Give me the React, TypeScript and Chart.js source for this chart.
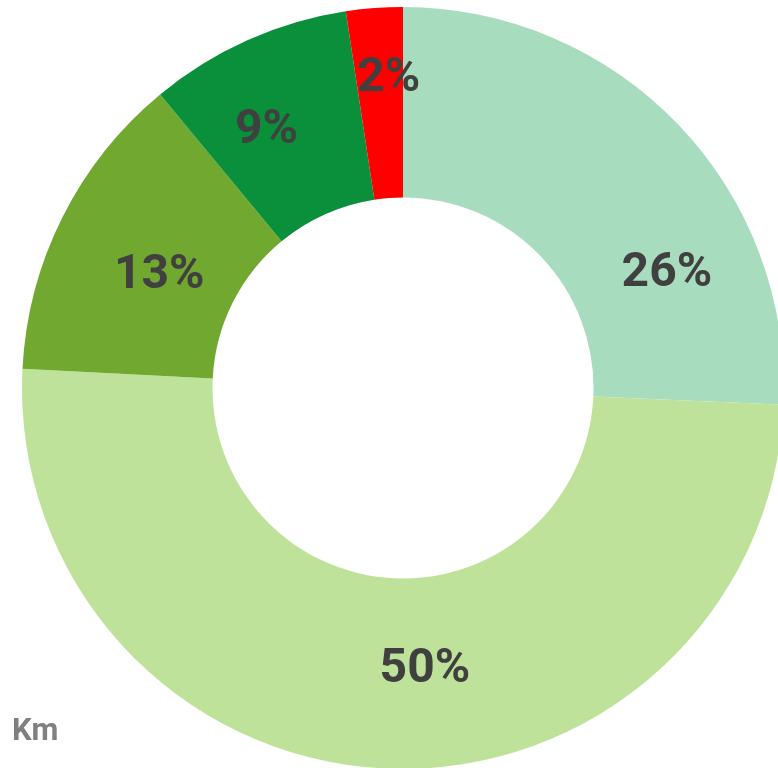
import React, { useEffect, useRef } from "react";
import { Chart, registerables } from "chart.js";

Chart.register(...registerables);

const categories = ["A", "B", "C", "D", "E"];
const values = [25.7, 50.1, 13.2, 8.6, 2.4];
const colors = ["#a7ddbe", "#bfe29a", "#71a82f", "#0a8f3b", "#ff0000"];
const unitLabel = "Km";

const labelPlugin = {
  id: "sliceLabels",
  afterDatasetsDraw(chart: any, _args: any, opts: any) {
    const ctx = chart.ctx;
    const meta = chart.getDatasetMeta(0);
    const data = chart.data.datasets[0].data as number[];
    const total = data.reduce((a: number, b: number) => a + b, 0);
    ctx.save();
    ctx.fillStyle = opts.color;
    ctx.font = opts.font;
    ctx.textAlign = "center";
    ctx.textBaseline = "alphabetic";
    meta.data.forEach((arc: any, i: number) => {
      const p = arc.getProps(["x", "y", "startAngle", "endAngle", "innerRadius", "outerRadius"], true);
      const a = p.startAngle + (p.endAngle - p.startAngle) * opts.angleFrac[i];
      const r = p.innerRadius + (p.outerRadius - p.innerRadius) * opts.radiusFrac[i];
      const x = p.x + Math.cos(a) * r;
      const y = p.y + Math.sin(a) * r;
      const txt = Math.round((data[i] / total) * 100) + "%";
      ctx.fillText(txt, x, y + opts.capHalf);
    });
    ctx.textAlign = "left";
    ctx.fillStyle = opts.unitColor;
    ctx.font = opts.unitFont;
    ctx.fillText(unitLabel, 12, 740);
    ctx.restore();
  },
};

export default function App() {
  const ref = useRef<HTMLCanvasElement | null>(null);
  useEffect(() => {
    if (!ref.current) return;
    const chart = new Chart(ref.current, {
      type: "doughnut",
      data: {
        labels: categories,
        datasets: [
          {
            data: values,
            backgroundColor: colors,
            borderWidth: 0,
          },
        ],
      },
      options: {
        animation: false,
        responsive: false,
        maintainAspectRatio: false,
        cutout: "50%",
        layout: { padding: { left: 22, top: 7, right: 0, bottom: 0 } },
        plugins: {
          legend: { display: false },
          tooltip: { enabled: false },
          sliceLabels: {
            color: "#404040",
            font: "bold 48px Roboto",
            capHalf: 17,
            angleFrac: [0.71, 0.46, 0.48, 0.39, 0.7],
            radiusFrac: [0.52, 0.46, 0.42, 0.55, 0.65],
            unitColor: "#808080",
            unitFont: "bold 31px Roboto",
          },
        } as any,
      },
      plugins: [labelPlugin],
    });
    return () => chart.destroy();
  }, []);
  return (
    <div
      style={{
        position: "fixed",
        left: 0,
        top: 0,
        width: 778,
        height: 768,
        overflow: "hidden",
        background: "#fff",
      }}
    >
      <canvas
        ref={ref}
        width={784}
        height={769}
        style={{ position: "absolute", left: 0, top: 0, width: 784, height: 769 }}
      />
    </div>
  );
}
